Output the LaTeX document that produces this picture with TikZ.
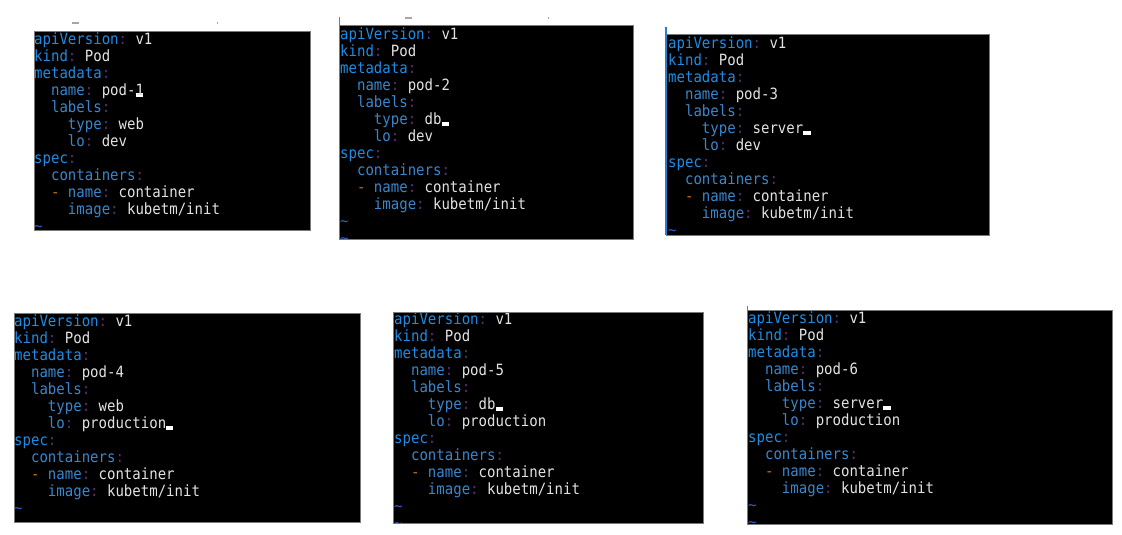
\documentclass[tikz,border=0pt]{standalone}
\usepackage{fontspec}
\newfontfamily\termface[FakeStretch=0.905]{DejaVu Sans Mono}
\definecolor{topk}{HTML}{1E8CE6}
\definecolor{keyc}{HTML}{3A86CC}
\definecolor{colonc}{HTML}{5A2D6E}
\definecolor{valc}{HTML}{E2E2E2}
\definecolor{dashc}{HTML}{C0721E}
\definecolor{tildec}{HTML}{2E5FC8}
\definecolor{framec}{HTML}{7A7A7A}
\newlength\cw
\setlength\cw{8.445pt}
\newcommand\termfont{\termface\fontsize{15.5pt}{17pt}\selectfont}
\newcommand\Ln[2]{\hbox{\hskip#1\cw #2}}
\newcommand\SP{\hskip\cw}
\newcommand\TK[1]{\textcolor{topk}{#1}\textcolor{colonc}{:}}
\newcommand\KK[1]{\textcolor{keyc}{#1}\textcolor{colonc}{:}}
\newcommand\VV[1]{\textcolor{valc}{#1}}
\newcommand\CURbox{\hbox to\cw{\textcolor{white}{\rule[-1.5pt]{0.85\cw}{4pt}}\hss}}
\newcommand\TL{\textcolor{tildec}{\char`\~}}
% #1 name value, #2 type value, #3 lo value, #4 extra lines
\newcommand\podtext[4]{\vtop{\baselineskip=17pt\lineskip=0pt\lineskiplimit=-100pt
 \Ln0{\TK{apiVersion}\SP\VV{v1}}
 \Ln0{\TK{kind}\SP\VV{Pod}}
 \Ln0{\TK{metadata}}
 \Ln2{\KK{name}\SP#1}
 \Ln2{\KK{labels}}
 \Ln4{\KK{type}\SP#2}
 \Ln4{\KK{lo}\SP#3}
 \Ln0{\TK{spec}}
 \Ln2{\KK{containers}}
 \Ln2{\textcolor{dashc}{-}\SP\KK{name}\SP\VV{container}}
 \Ln4{\KK{image}\SP\VV{kubetm/init}}
 \Ln0{\TL}
 #4}}
\tikzset{
  term/.style={anchor=base west, inner sep=0pt, font=\termfont},
  panelbg/.style={fill=black},
  panelframe/.style={draw=framec, line width=1pt},
  speck/.style={fill=gray!70}
}
\begin{document}
\begin{tikzpicture}[x=1pt,y=-1pt]
\useasboundingbox (0,0) rectangle (1122,535);
\fill[white] (0,0) rectangle (1122,535);
% stray specks above the top panels
\fill[speck] (72,22.5) rectangle (79,24);
\fill[speck] (216.5,22.5) rectangle (218,24);
\fill[speck] (405,17.5) rectangle (412,19);
\fill[speck] (547.5,17.5) rectangle (549,19);
% ---------- panel 1
\fill[panelbg] (34,32) rectangle (310,230);
\begin{scope}
\clip (34,32) rectangle (310,230);
\node[term] (t1) at (34,44.5) {\podtext{\VV{pod-}\rlap{\CURbox}\VV{1}}{\VV{web}}{\VV{dev}}{}};
\end{scope}
\draw[panelframe] (34,32) rectangle (310,230);
% ---------- panel 2
\fill[panelbg] (339,26) rectangle (633,239);
\begin{scope}
\clip (339,26) rectangle (633,239);
\node[term] (t2) at (340,39.5) {\podtext{\VV{pod-2}}{\VV{db}\CURbox}{\VV{dev}}{\Ln0{\TL}}};
\end{scope}
\draw[panelframe] (339,26) rectangle (633,239);
\draw[draw=framec, line width=1pt] (339,17) -- (339,26);
% ---------- panel 3
\fill[panelbg] (666,35) rectangle (989,235);
\begin{scope}
\clip (666,35) rectangle (989,235);
\node[term] (t3) at (668,48.5) {\podtext{\VV{pod-3}}{\VV{server}\CURbox}{\VV{dev}}{}};
\end{scope}
\draw[panelframe] (666,35) rectangle (989,235);
\draw[draw=tildec!80!cyan, line width=2pt] (666,27) -- (666,235);
% ---------- panel 4
\fill[panelbg] (14,313) rectangle (360,522);
\begin{scope}
\clip (14,313) rectangle (360,522);
\node[term] (t4) at (14,326.5) {\podtext{\VV{pod-4}}{\VV{web}}{\VV{production}\CURbox}{}};
\end{scope}
\draw[panelframe] (14,313) rectangle (360,522);
% ---------- panel 5
\fill[panelbg] (393,312) rectangle (703,523);
\begin{scope}
\clip (393,312) rectangle (703,523);
\node[term] (t5) at (394,324.5) {\podtext{\VV{pod-5}}{\VV{db}\CURbox}{\VV{production}}{\Ln0{\TL}}};
\end{scope}
\draw[panelframe] (393,312) rectangle (703,523);
% ---------- panel 6
\fill[panelbg] (747,310) rectangle (1112,524);
\begin{scope}
\clip (747,310) rectangle (1112,524);
\node[term] (t6) at (748,323.5) {\podtext{\VV{pod-6}}{\VV{server}\CURbox}{\VV{production}}{\Ln0{\TL}}};
\end{scope}
\draw[panelframe] (747,310) rectangle (1112,524);
\draw[draw=framec, line width=1pt] (747,306) -- (747,310);
\end{tikzpicture}
\end{document}
